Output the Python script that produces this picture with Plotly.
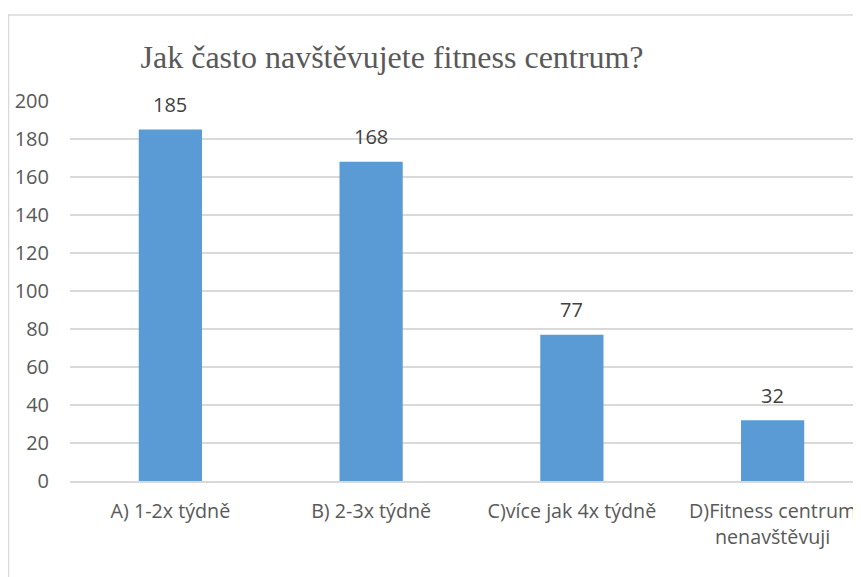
import plotly.graph_objects as go

categories = ["A) 1-2x týdně", "B) 2-3x týdně", "C)více jak 4x týdně", "D)Fitness centrum<br>nenavštěvuji"]
values = [185, 168, 77, 32]
y_ticks = [0, 20, 40, 60, 80, 100, 120, 140, 160, 180, 200]
title_text = "Jak často navštěvujete fitness centrum?"

OFF = 8  # page body margin
W, H = 861 - OFF, 577 - OFF
L, R, T, B = 70 - OFF, 0, 101 - OFF, 96
PW, PH = W - L - R, H - T - B

def px(x):  # window x -> paper x
    return (x - OFF - L) / PW

def py(y):  # window y -> paper y
    return (H - B - (y - OFF)) / PH

SANS = "Open Sans, Liberation Sans, Arial, sans-serif"

fig = go.Figure()
fig.add_trace(go.Bar(
    x=categories, y=values, width=0.315,
    marker=dict(color="#5b9bd5", line=dict(width=0)),
    hoverinfo="skip",
))

for c, v in zip(categories, values):
    fig.add_annotation(x=c, y=v, text=str(v), showarrow=False, yshift=25,
                       font=dict(family=SANS, size=20, color="#404040"))

# chart border (left and top)
fig.add_shape(type="line", xref="paper", yref="paper",
              x0=px(8), x1=px(900), y0=py(15), y1=py(15),
              line=dict(color="#d9d9d9", width=1.5))
fig.add_shape(type="line", xref="paper", yref="paper",
              x0=px(8.5), x1=px(8.5), y0=py(600), y1=py(15),
              line=dict(color="#d9d9d9", width=1.5))

fig.update_layout(
    width=W, height=H,
    margin=dict(l=L, r=R, t=T, b=B),
    paper_bgcolor="white", plot_bgcolor="white",
    showlegend=False,
    title=dict(text=title_text, x=px(392), xref="paper", xanchor="center",
               y=1 - (57 - OFF) / H, yanchor="middle",
               font=dict(family="Liberation Serif, Times New Roman, serif", size=32, color="#595959")),
    font=dict(family=SANS, color="#595959"),
)
fig.update_xaxes(
    range=[-0.5, -0.5 + PW / 200.75],
    showgrid=False, zeroline=False, showline=True, linecolor="#d9d9d9", linewidth=1.5,
    ticks="", tickfont=dict(family=SANS, size=19.7, color="#595959"), ticklabelstandoff=12,
    tickangle=0,
)
fig.update_yaxes(
    range=[0, 200], tickvals=y_ticks,
    showgrid=True, gridcolor="#d9d9d9", gridwidth=1.5, zeroline=False,
    showline=False, ticks="", tickfont=dict(family=SANS, size=20, color="#595959"),
    ticklabelstandoff=20,
)

fig.write_html("out.html")
